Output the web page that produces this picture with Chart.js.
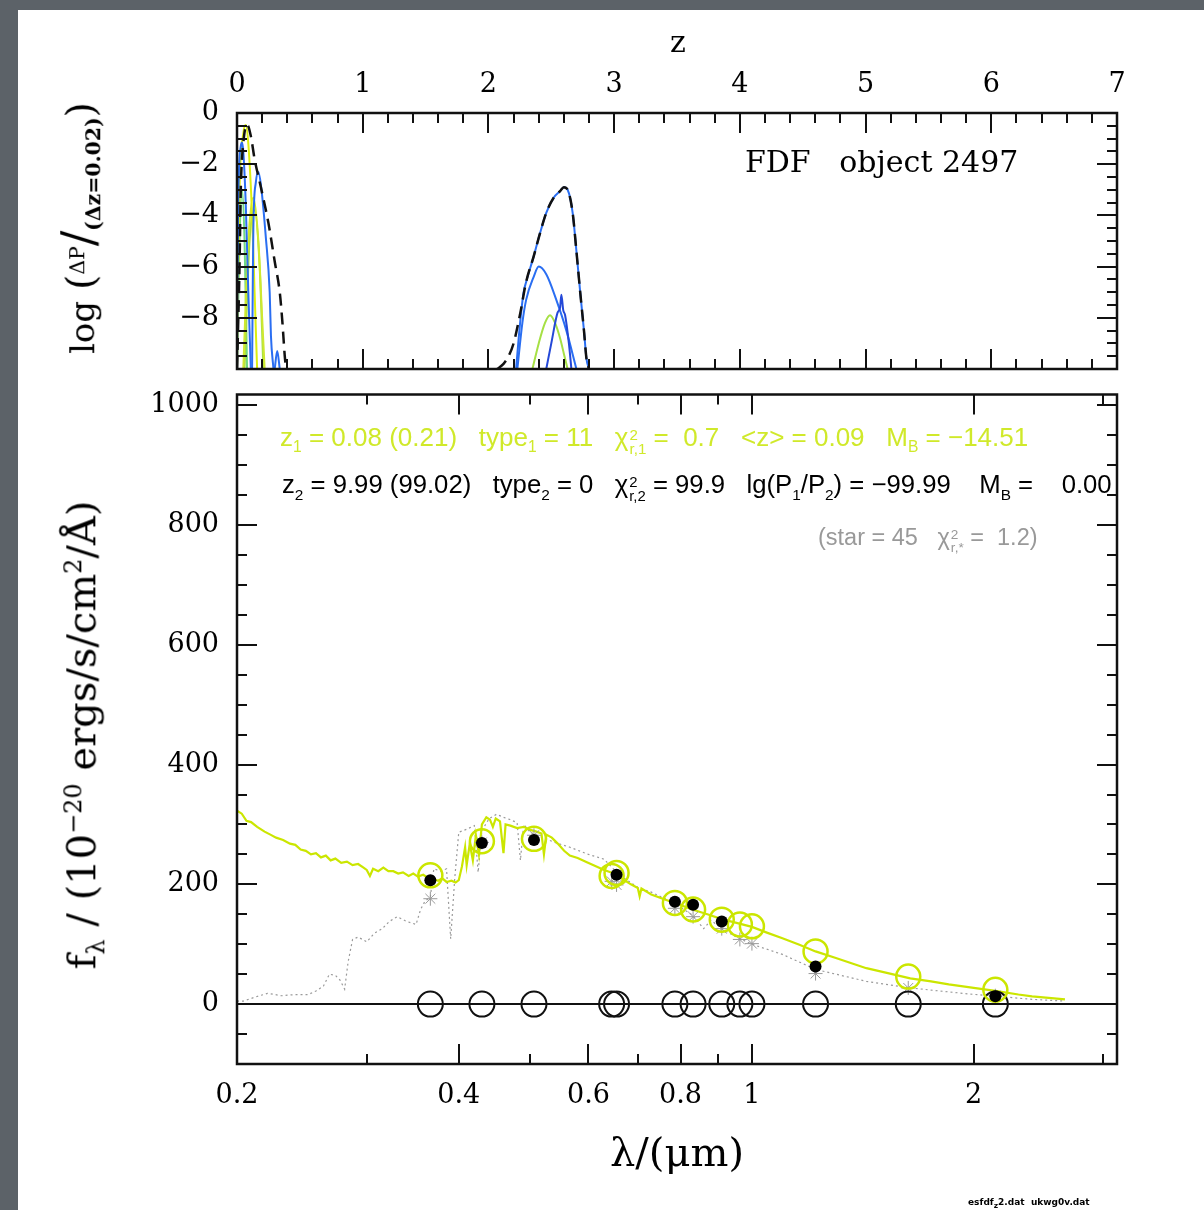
<!DOCTYPE html>
<html>
<head>
<meta charset="utf-8">
<script src="https://cdn.jsdelivr.net/npm/chart.js@4.4.1/dist/chart.umd.min.js"></script>
<style>
  html, body { margin: 0; padding: 0; }
  body { width: 1204px; height: 1210px; background: #5c6268; position: relative; overflow: hidden; font-family: 'DejaVu Serif', serif; }
  #sheet { position: absolute; left: 18px; top: 10px; width: 1186px; height: 1200px; background: #fff; }
  canvas { position: absolute; left: 0; }
  .lbl { position: absolute; white-space: pre; color: #000; line-height: 1; }
  .c { transform: translate(-50%, -50%); }
  .rot { transform: translate(-50%, -50%) rotate(-90deg); }
  .fit { font-family: 'Liberation Sans Narrow', 'Liberation Sans', sans-serif; font-size: 26px; transform: translateY(-50%); }
  .fit sub, .fit sup { font-size: 0.6em; }
  .ss { display: inline-flex; flex-direction: column; font-size: 0.58em; line-height: 0.95; vertical-align: 0.42em; margin-left: 1px; }
</style>
</head>
<body>
<div id="sheet"></div>
<canvas id="pz" width="1204" height="380" style="top:0"></canvas>
<canvas id="sed" width="1204" height="830" style="top:380px"></canvas>

<div class="lbl c" style="left:678px; top:42px; font-size:30px;">z</div>
<div class="lbl" style="left:745px; top:162px; font-size:30px; transform:translateY(-50%);">FDF   object 2497</div>
<div class="lbl rot" style="left:80px; top:228px; font-size:34px;">log <span style="font-size:1.15em">(</span><span style="font-size:0.6em; vertical-align:0.5em;">ΔP</span><span style="font-size:1.35em">/</span><span style="font-size:0.6em; vertical-align:-0.3em; font-weight:bold">(Δz=0.02)</span><span style="font-size:1.15em">)</span></div>

<div class="lbl fit" style="left:280px; top:440px; color:#d0e92a;">z<sub>1</sub> = 0.08 (0.21)   type<sub>1</sub> = 11   χ<span class="ss"><span>2</span><span>r,1</span></span> =  0.7   &lt;z&gt; = 0.09   M<sub>B</sub> = −14.51</div>
<div class="lbl fit" style="left:282px; top:488px; font-size:25.7px;">z<sub>2</sub> = 9.99 (99.02)   type<sub>2</sub> = 0   χ<span class="ss"><span>2</span><span>r,2</span></span> = 99.9   lg(P<sub>1</sub>/P<sub>2</sub>) = −99.99    M<sub>B</sub> =    0.00</div>
<div class="lbl fit" style="left:818px; top:541px; color:#999; font-size:23.5px;">(star = 45   χ<span class="ss"><span>2</span><span>r,*</span></span> =  1.2)</div>

<div class="lbl rot" style="left:85px; top:735px; font-size:40px;">f<sub style="font-size:0.6em">λ</sub> / (10<sup style="font-size:0.6em">−20</sup> ergs/s/cm<sup style="font-size:0.6em">2</sup>/Å)</div>
<div class="lbl c" style="left:677px; top:1152px; font-size:40px;">λ/(μm)</div>
<div class="lbl" style="left:968px; top:1198px; font-size:9px; font-weight:bold; font-family:'DejaVu Sans', sans-serif;">esfdf<sub>z</sub>2.dat  ukwg0v.dat</div>

<script>
// ---- redshift probability P(z), log10 per dz=0.02 ----
const Z_TICKS = [0, 1, 2, 3, 4, 5, 6, 7];
const LOGP_TICKS = [0, -2, -4, -6, -8];

const PZ_TOTAL_Z = [0.0, 0.02, 0.03, 0.05, 0.08, 0.11, 0.14, 0.19, 0.25, 0.30, 0.34, 0.36, 0.38, 0.39, 1.0,
                    2.07, 2.12, 2.16, 2.20, 2.25, 2.30, 2.36, 2.41, 2.46, 2.52, 2.57, 2.60, 2.63, 2.67, 2.70, 2.73, 2.76, 2.78, 2.80];
const PZ_TOTAL = [-10, -6, -3, -1.2, -0.45, -0.9, -1.8, -2.9, -4.3, -5.8, -7.0, -8.1, -9.5, -10, null,
                  -10, -9.8, -9.5, -9.0, -7.9, -6.6, -5.6, -4.7, -3.9, -3.3, -3.05, -2.9, -3.0, -3.9, -5.4, -7.0, -8.5, -9.6, -10];

const PZ_BLUE_A_Z = [2.22, 2.25, 2.28, 2.30, 2.36, 2.41, 2.46, 2.52, 2.57, 2.60, 2.63, 2.67, 2.70, 2.73, 2.76, 2.78, 2.80];
const PZ_BLUE_A = [-10, -8.3, -7.0, -6.6, -5.6, -4.7, -3.9, -3.3, -3.05, -2.9, -3.0, -3.9, -5.4, -7.0, -8.5, -9.6, -10];
const PZ_BLUE_B_Z = [2.23, 2.27, 2.30, 2.36, 2.40, 2.46, 2.54, 2.62, 2.70];
const PZ_BLUE_B = [-10, -8.2, -7.3, -6.4, -6.0, -6.3, -7.3, -8.5, -10];
const PZ_BLUE_C_Z = [2.46, 2.50, 2.55, 2.57, 2.58, 2.595, 2.61, 2.64, 2.66];
const PZ_BLUE_C = [-10, -9.0, -7.8, -7.6, -7.1, -7.7, -7.9, -9.0, -10];
const PZ_GREEN_HI_Z = [2.35, 2.40, 2.45, 2.49, 2.53, 2.57, 2.60, 2.63];
const PZ_GREEN_HI = [-10, -9.0, -8.2, -7.9, -8.2, -8.8, -9.4, -10];

const PZ_BLUE_D_Z = [0.0, 0.01, 0.03, 0.04, 0.05, 0.07, 0.09, 0.11];
const PZ_BLUE_D = [-10, -3.5, -1.3, -1.15, -1.5, -3.6, -7.0, -10];
const PZ_BLUE_E_Z = [0.12, 0.125, 0.13, 0.15, 0.17, 0.19, 0.23, 0.26, 0.27, 0.29];
const PZ_BLUE_E = [-10, -7, -4.5, -2.7, -2.3, -2.8, -4.9, -7, -8.7, -10];
const PZ_BLUE_F_Z = [0.30, 0.32, 0.34];
const PZ_BLUE_F = [-10, -9.3, -10];
const PZ_YELLOW_A_Z = [0.0, 0.02, 0.05, 0.07, 0.09, 0.12, 0.14, 0.16];
const PZ_YELLOW_A = [-10, -3, -0.8, -0.47, -1.2, -4, -7, -10];
const PZ_YELLOW_B_Z = [0.05, 0.09, 0.13, 0.17, 0.20, 0.22];
const PZ_YELLOW_B = [-10, -5, -3.3, -5, -8, -10];
const PZ_GREEN_A_Z = [0.06, 0.10, 0.14, 0.18, 0.21];
const PZ_GREEN_A = [-10, -5, -3.8, -6, -10];
const PZ_GREEN_B_Z = [0.0, 0.02, 0.04, 0.06, 0.08];
const PZ_GREEN_B = [-10, -5, -3, -5, -10];

// ---- SED: flux in 1e-20 erg/s/cm2/A vs wavelength in micron ----
const LAMBDA_TICKS = [0.2, 0.4, 0.6, 0.8, 1, 2];
const LAMBDA_TICK_LABELS = ['0.2', '0.4', '0.6', '0.8', '1', '2'];
const FLUX_TICKS = [0, 200, 400, 600, 800, 1000];

const FILTER_UM  = [0.366, 0.43, 0.506, 0.645, 0.655, 0.786, 0.832, 0.91, 0.963, 1.0, 1.22, 1.63, 2.14];
const OBS_FLUX   = [207, 269, 274, null, 216, 171, 166, 138, null, null, 63, null, 13];
const MODEL_FLUX = [215, 272, 276, 214, 219, 169, 158, 141, 133, 130, 88, 46, 24];
const STAR_FLUX  = [176, 270, 282, 205, 199, 160, 146, 126, 108, 101, 51, 27, 14];
const ZERO_FLUX  = [0, 0, 0, 0, 0, 0, 0, 0, 0, 0, 0, 0, 0];

const GAL_LAMBDA = [0.200, 0.203, 0.206, 0.209, 0.213, 0.218, 0.222, 0.226, 0.231, 0.236, 0.240, 0.244, 0.248,
  0.252, 0.256, 0.260, 0.264, 0.268, 0.272, 0.277, 0.282, 0.287, 0.292, 0.297, 0.300, 0.303, 0.306, 0.311, 0.316,
  0.321, 0.326, 0.331, 0.336, 0.342, 0.347, 0.352, 0.358, 0.363, 0.369, 0.375, 0.380, 0.385, 0.391, 0.396, 0.400,
  0.404, 0.408, 0.410, 0.414, 0.418, 0.422, 0.426, 0.430, 0.436, 0.441, 0.445, 0.449, 0.455, 0.460, 0.463, 0.470,
  0.480, 0.490, 0.500, 0.510, 0.518, 0.522, 0.526, 0.535, 0.545, 0.556, 0.566, 0.580, 0.597, 0.615, 0.630, 0.647,
  0.665, 0.685, 0.700, 0.704, 0.708, 0.730, 0.760, 0.790, 0.830, 0.870, 0.910, 0.950, 1.000, 1.050, 1.100, 1.160,
  1.220, 1.300, 1.430, 1.550, 1.640, 1.750, 1.850, 2.000, 2.140, 2.300, 2.400, 2.550, 2.660];
const GAL_FLUX = [323, 318, 306, 304, 296, 288, 283, 278, 274, 268, 266, 258, 256,
  250, 252, 245, 248, 240, 243, 236, 238, 232, 234, 228, 224, 214, 226, 222, 228,
  222, 222, 218, 220, 214, 218, 213, 216, 211, 209, 206, 210, 204, 206, 203, 207,
  230, 262, 232, 268, 240, 282, 250, 300, 312, 308, 296, 310, 305, 252, 300, 298,
  294, 296, 291, 288, 285, 250, 283, 278, 268, 256, 248, 244, 237, 230, 224, 219,
  210, 200, 194, 180, 193, 183, 175, 168, 158, 150, 142, 136, 129, 119, 110, 99,
  88, 77, 60, 50, 43, 38, 33, 27, 22, 16, 13, 10, 8];

const STAR_LAMBDA = [0.200, 0.204, 0.212, 0.220, 0.230, 0.240, 0.250, 0.256, 0.262, 0.267, 0.272, 0.276, 0.280, 0.283,
  0.287, 0.292, 0.300, 0.307, 0.315, 0.322, 0.330, 0.340, 0.350, 0.355, 0.360, 0.366, 0.370, 0.378, 0.385, 0.390,
  0.395, 0.400, 0.410, 0.420, 0.425, 0.430, 0.440, 0.450, 0.460, 0.470, 0.480, 0.485, 0.490, 0.500, 0.520, 0.540,
  0.566, 0.600, 0.630, 0.660, 0.700, 0.730, 0.780, 0.830, 0.860, 0.880, 0.920, 0.960, 1.000, 1.100, 1.220, 1.430,
  1.640, 1.970, 2.400, 2.660];
const STAR_SPEC = [5, 5, 12, 18, 14, 16, 16, 22, 30, 50, 48, 40, 25, 70,
  108, 112, 104, 118, 126, 138, 146, 138, 133, 158, 172, 179, 226, 222, 226, 109,
  210, 287, 292, 298, 220, 290, 310, 317, 312, 308, 303, 240, 300, 287, 278, 270,
  262, 250, 242, 216, 195, 187, 170, 149, 126, 140, 122, 110, 100, 83, 58, 38,
  27, 17, 8, 5];

const GREEN = '#cbe600';
const BLUE = '#2a6ef2';

const xy = (xs, ys) => xs.map((x, i) => ({ x, y: ys[i] }));

const frameTicks = {
  id: 'frameTicks',
  afterDraw(chart, args, o) {
    const { ctx, chartArea: a } = chart;
    const xs = chart.scales.x, ys = chart.scales.y;
    ctx.save();
    ctx.strokeStyle = '#111';
    ctx.lineWidth = 2;
    ctx.beginPath();
    const tick = (list, len, horiz) => list.forEach(v => {
      if (horiz) {
        const p = Math.round(xs.getPixelForValue(v));
        ctx.moveTo(p, a.top); ctx.lineTo(p, a.top + len);
        ctx.moveTo(p, a.bottom); ctx.lineTo(p, a.bottom - len);
      } else {
        const p = Math.round(ys.getPixelForValue(v));
        ctx.moveTo(a.left, p); ctx.lineTo(a.left + len, p);
        ctx.moveTo(a.right, p); ctx.lineTo(a.right - len, p);
      }
    });
    tick(o.xMajor, 20, true);
    tick(o.xMinor, 10, true);
    tick(o.yMajor, 20, false);
    tick(o.yMinor, 10, false);
    ctx.stroke();
    ctx.lineWidth = 2.5;
    ctx.strokeRect(a.left, a.top, a.width, a.height);
    ctx.restore();
  }
};

const steps = (from, to, step) => {
  const out = [];
  for (let v = from; v <= to + 1e-9; v += step) out.push(+v.toFixed(4));
  return out;
};

const tickFont = { family: 'DejaVu Serif', size: 27 };

function noPad(s) { s.paddingLeft = 0; s.paddingRight = 0; s.paddingTop = 0; s.paddingBottom = 0; }

function pzLine(z, v, color, width, dash) {
  return {
    data: xy(z, v), borderColor: color, borderWidth: width || 2, borderDash: dash || [],
    pointRadius: 0, cubicInterpolationMode: 'monotone', spanGaps: false, fill: false,
  };
}

new Chart(document.getElementById('pz'), {
  type: 'line',
  data: {
    datasets: [
      pzLine(PZ_TOTAL_Z, PZ_TOTAL, '#111', 2.5, [12, 7]),
      pzLine(PZ_BLUE_A_Z, PZ_BLUE_A, BLUE, 2),
      pzLine(PZ_BLUE_C_Z, PZ_BLUE_C, '#2448d8', 2),
      pzLine(PZ_BLUE_B_Z, PZ_BLUE_B, BLUE, 2),
      pzLine(PZ_GREEN_HI_Z, PZ_GREEN_HI, '#a6e044', 2),
      pzLine(PZ_BLUE_D_Z, PZ_BLUE_D, BLUE, 2),
      pzLine(PZ_BLUE_E_Z, PZ_BLUE_E, BLUE, 2),
      pzLine(PZ_BLUE_F_Z, PZ_BLUE_F, BLUE, 2),
      pzLine(PZ_YELLOW_A_Z, PZ_YELLOW_A, '#dcee10', 2),
      pzLine(PZ_YELLOW_B_Z, PZ_YELLOW_B, '#cfe830', 2),
      pzLine(PZ_GREEN_A_Z, PZ_GREEN_A, '#a6e044', 2),
      pzLine(PZ_GREEN_B_Z, PZ_GREEN_B, '#70d880', 2),
    ],
  },
  plugins: [frameTicks],
  options: {
    responsive: false,
    animation: false,
    layout: { padding: { left: 137, right: 87, top: 60, bottom: 11 } },
    plugins: {
      legend: { display: false },
      tooltip: { enabled: false },
      frameTicks: { xMajor: Z_TICKS, xMinor: steps(0, 7, 0.2), yMajor: LOGP_TICKS, yMinor: steps(-10, 0, 0.5) },
    },
    scales: {
      x: {
        type: 'linear', position: 'top', min: 0, max: 7,
        afterBuildTicks: s => { s.ticks = Z_TICKS.map(value => ({ value })); },
        afterFit: s => { s.height = 53; noPad(s); },
        grid: { display: false, drawTicks: false },
        border: { display: false },
        ticks: { padding: 12, font: tickFont, color: '#000', maxRotation: 0, autoSkip: false },
      },
      y: {
        type: 'linear', min: -10, max: 0,
        afterBuildTicks: s => { s.ticks = LOGP_TICKS.map(value => ({ value })); },
        afterFit: s => { s.width = 100; noPad(s); },
        grid: { display: false, drawTicks: false },
        border: { display: false },
        ticks: { padding: 18, font: tickFont, color: '#000', callback: v => (v < 0 ? '\u2212' + (-v) : String(v)) },
      },
    },
  },
});

new Chart(document.getElementById('sed'), {
  type: 'line',
  data: {
    datasets: [
      {
        type: 'scatter', data: xy(FILTER_UM, OBS_FLUX).filter(p => p.y !== null),
        pointRadius: 6, pointBackgroundColor: '#000', pointBorderWidth: 0,
      },
      {
        type: 'scatter', data: xy(FILTER_UM, MODEL_FLUX),
        pointRadius: 12, pointBackgroundColor: 'rgba(0,0,0,0)', pointBorderColor: GREEN, pointBorderWidth: 2.5,
      },
      {
        type: 'scatter', data: xy(FILTER_UM, ZERO_FLUX),
        pointRadius: 12.5, pointBackgroundColor: 'rgba(0,0,0,0)', pointBorderColor: '#111', pointBorderWidth: 2,
      },
      {
        type: 'scatter', data: xy(FILTER_UM, STAR_FLUX),
        pointStyle: 'star', pointRadius: 7, pointBorderColor: '#999', pointBorderWidth: 1, pointBackgroundColor: 'rgba(0,0,0,0)',
      },
      {
        data: xy(GAL_LAMBDA, GAL_FLUX), borderColor: GREEN, borderWidth: 2.2, pointRadius: 0, tension: 0,
      },
      {
        data: xy(STAR_LAMBDA, STAR_SPEC), borderColor: '#9a9a9a', borderWidth: 1.2, borderDash: [2, 3], pointRadius: 0, tension: 0,
      },
      {
        data: [{ x: 0.2, y: 0 }, { x: 3.13, y: 0 }], borderColor: '#111', borderWidth: 2, pointRadius: 0,
      },
    ],
  },
  plugins: [frameTicks],
  options: {
    responsive: false,
    animation: false,
    layout: { padding: { left: 137, right: 87, top: 9, bottom: 86 } },
    plugins: {
      legend: { display: false },
      tooltip: { enabled: false },
      frameTicks: { xMajor: LAMBDA_TICKS, xMinor: [0.3, 0.5, 0.7, 0.9, 3], yMajor: FLUX_TICKS, yMinor: steps(-100, 1000, 50) },
    },
    scales: {
      x: {
        type: 'logarithmic', position: 'bottom', min: 0.2, max: 3.13,
        afterBuildTicks: s => { s.ticks = LAMBDA_TICKS.map(value => ({ value })); },
        afterFit: s => { s.height = 60; noPad(s); },
        grid: { display: false, drawTicks: false },
        border: { display: false },
        ticks: { padding: 16, font: tickFont, color: '#000', maxRotation: 0, autoSkip: false,
                 callback: (v, i) => LAMBDA_TICK_LABELS[i] },
      },
      y: {
        type: 'linear', min: -100, max: 1018,
        afterBuildTicks: s => { s.ticks = FLUX_TICKS.map(value => ({ value })); },
        afterFit: s => { s.width = 100; noPad(s); },
        grid: { display: false, drawTicks: false },
        border: { display: false },
        ticks: { padding: 18, font: tickFont, color: '#000', callback: v => String(v) },
      },
    },
  },
});
</script>
</body>
</html>
